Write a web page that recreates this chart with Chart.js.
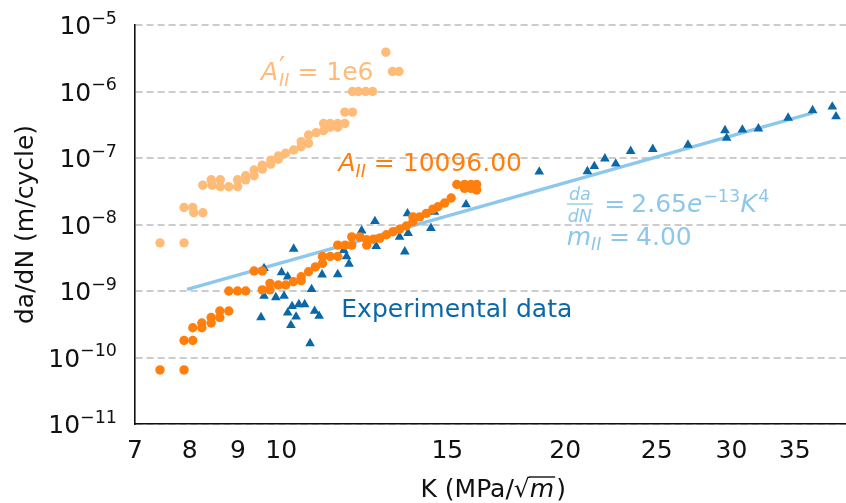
<!DOCTYPE html>
<html>
<head>
<meta charset="utf-8">
<script src="https://cdn.jsdelivr.net/npm/chart.js@4.4.1/dist/chart.umd.min.js"></script>
<style>
  html, body { margin: 0; padding: 0; background: #fff; overflow: hidden; }
  #wrap { position: relative; width: 857px; height: 503px; }
</style>
</head>
<body>
<div id="wrap"><canvas id="crack-growth"></canvas></div>
<script>
// Paris-law fit, da/dN = C * K^m
const fitC = 2.65e-13;
const fitM = 4;
const fitK = [7.95, 36.6];

const xTicks = [7, 8, 9, 10, 15, 20, 25, 30, 35];
const yTicks = [1e-11, 1e-10, 1e-9, 1e-8, 1e-7, 1e-6, 1e-5];

// model with A'_II = 1e6
const kPrime = [7.44, 7.89, 7.89, 8.06, 8.08, 8.26, 8.26, 8.43, 8.45, 8.62, 8.62, 8.80,
  8.99, 8.99, 9.17, 9.17, 9.36, 9.36, 9.55, 9.55, 9.75, 9.75, 9.93, 9.93,
  10.11, 10.31, 10.50, 10.50, 10.69, 10.69, 10.89, 11.09, 11.09, 11.27, 11.48, 11.68,
  11.27, 11.48, 11.68, 11.90, 11.90, 12.07, 12.29, 12.50, 12.91, 13.12, 13.33];
const ratePrime = [5.3e-9, 5.3e-9, 1.8e-8, 1.8e-8, 1.5e-8, 1.5e-8, 3.9e-8, 4.7e-8, 3.9e-8, 4.7e-8, 3.7e-8, 3.7e-8,
  4.7e-8, 3.7e-8, 5.4e-8, 4.7e-8, 6.6e-8, 5.4e-8, 7.8e-8, 6.8e-8, 9.3e-8, 8.1e-8, 1.07e-7, 9.6e-8,
  1.18e-7, 1.32e-7, 1.76e-7, 1.48e-7, 1.66e-7, 2.22e-7, 2.4e-7, 2.57e-7, 3.3e-7, 3.3e-7, 3.3e-7, 3.3e-7,
  2.9e-7, 2.9e-7, 4.9e-7, 4.9e-7, 1e-6, 1e-6, 1e-6, 1e-6, 3.9e-6, 2.0e-6, 2.0e-6];

// model with A_II = 10096
const kModel = [7.44, 7.89, 7.89, 8.06, 8.06, 8.24, 8.24, 8.43, 8.43, 8.61, 8.61, 8.80,
  8.80, 8.99, 9.17, 9.36, 9.55, 9.55, 9.73, 9.73, 9.93, 10.11, 10.30, 10.50,
  10.50, 10.69, 10.87, 11.06, 11.06, 11.27, 11.48, 11.48, 11.69, 11.88, 11.88, 12.12,
  12.32, 12.32, 12.52, 12.72, 12.93, 13.14, 13.35, 13.57, 13.79, 13.79, 14.02, 14.25,
  14.48, 14.66, 14.90, 15.14, 15.35, 15.64, 15.89, 16.11, 15.64, 15.89, 16.11];
const rateModel = [6.5e-11, 6.5e-11, 1.8e-10, 1.8e-10, 2.8e-10, 3.3e-10, 2.8e-10, 4.0e-10, 3.3e-10, 5.0e-10, 4.0e-10, 5.0e-10,
  1.0e-9, 1.0e-9, 1.0e-9, 2.0e-9, 2.0e-9, 1.04e-9, 1.3e-9, 1.04e-9, 1.23e-9, 1.23e-9, 1.38e-9, 1.64e-9,
  1.43e-9, 1.95e-9, 2.3e-9, 2.6e-9, 3.3e-9, 3.3e-9, 3.3e-9, 4.9e-9, 4.9e-9, 4.9e-9, 6.5e-9, 6.5e-9,
  5.9e-9, 4.9e-9, 6.0e-9, 6.2e-9, 7.0e-9, 7.8e-9, 8.5e-9, 9.5e-9, 1.1e-8, 1.3e-8, 1.3e-8, 1.47e-8,
  1.7e-8, 1.85e-8, 2.1e-8, 2.5e-8, 4.0e-8, 4.0e-8, 4.0e-8, 4.0e-8, 3.5e-8, 3.5e-8, 3.3e-8];

// measured crack growth rates
const kExp = [9.52, 9.59, 9.59, 9.87, 10.01, 10.07, 10.16, 10.16, 10.24, 10.27,
  10.31, 10.37, 10.44, 10.59, 10.73, 10.77, 10.85, 10.97, 11.05, 11.48,
  11.65, 11.73, 11.80, 12.17, 12.57, 12.61, 13.35, 13.52, 13.61, 13.63,
  14.41, 14.53, 15.70, 18.77, 21.11, 21.47, 22.03, 22.62, 23.46, 24.76,
  26.98, 29.53, 29.65, 30.81, 32.04, 34.45, 36.57, 38.37, 38.72];
const rateExp = [4.0e-10, 8.4e-10, 2.2e-9, 8.0e-10, 1.9e-9, 8.4e-10, 1.64e-9, 4.7e-10, 3.05e-10, 5.9e-10,
  4.3e-9, 4.1e-10, 6.3e-10, 6.3e-10, 1.63e-10, 1.06e-9, 5.0e-10, 4.2e-10, 1.76e-9, 1.78e-9,
  4.1e-9, 3.3e-9, 2.55e-9, 8.1e-9, 1.12e-8, 4.7e-9, 6.5e-9, 3.9e-9, 1.46e-8, 7.4e-9,
  8.8e-9, 1.54e-8, 2.0e-8, 6.2e-8, 6.3e-8, 7.5e-8, 9.8e-8, 8.2e-8, 1.27e-7, 1.36e-7,
  1.57e-7, 2.6e-7, 2.0e-7, 2.66e-7, 2.76e-7, 4.0e-7, 5.2e-7, 5.9e-7, 4.2e-7];

const FONT = '"DejaVu Sans", sans-serif';
const INK = '#111111';
const C_PRIME = '#ffbb78';
const C_MODEL = '#ff7f0e';
const C_EXP = '#0b68a8';
const C_FIT = '#8ec7ec';

function pairs(xs, ys) {
  return xs.map((x, i) => ({ x: x, y: ys[i] }));
}

// draws a run of text pieces, mathtext style (italic, scaled, raised/lowered)
function drawMath(ctx, x, y, size, color, parts) {
  ctx.save();
  ctx.fillStyle = color;
  ctx.textAlign = 'left';
  ctx.textBaseline = 'alphabetic';
  let cx = x;
  for (const p of parts) {
    const s = size * (p.sc || 1);
    ctx.font = (p.it ? 'italic ' : '') + s + 'px ' + FONT;
    cx += (p.dx || 0) * size;
    ctx.fillText(p.t, cx, y + (p.dy || 0) * size);
    if (p.adv !== false) cx += ctx.measureText(p.t).width;
  }
  ctx.restore();
  return cx;
}

function textWidth(ctx, t, size, italic) {
  ctx.save();
  ctx.font = (italic ? 'italic ' : '') + size + 'px ' + FONT;
  const w = ctx.measureText(t).width;
  ctx.restore();
  return w;
}

const labels = {
  id: 'labels',
  afterDatasetsDraw(chart) {
    const { ctx, scales: { x, y } } = chart;
    const px = k => x.getPixelForValue(k);
    const py = v => y.getPixelForValue(v);

    // y tick labels as powers of ten
    for (const v of yTicks) {
      const e = '\u2212' + Math.abs(Math.round(Math.log10(v)));
      const w = textWidth(ctx, '10', 25) + textWidth(ctx, e, 17.5);
      drawMath(ctx, x.left - 18 - w, py(v) + 9, 25, INK, [
        { t: '10' },
        { t: e, sc: 0.7, dy: -0.42 }
      ]);
    }

    drawMath(ctx, px(9.52), py(1.49e-6), 25, C_PRIME, [
      { t: 'A', it: 1 },
      { t: '\u2032', sc: 1.1, dy: -0.1, dx: 0.04, adv: false },
      { t: 'II', it: 1, sc: 0.7, dy: 0.25 },
      { t: ' = 1e6' }
    ]);

    drawMath(ctx, px(11.5), py(6.37e-8), 25, C_MODEL, [
      { t: 'A', it: 1 },
      { t: 'II', it: 1, sc: 0.7, dy: 0.22 },
      { t: ' = 10096.00' }
    ]);

    drawMath(ctx, px(11.58), py(4.06e-10), 25, C_EXP, [{ t: 'Experimental data' }]);

    // fitted law: da/dN fraction, then the coefficient and exponent
    const s = 25;
    const fx = px(20.07);
    const fy = py(1.54e-8);
    const wNum = textWidth(ctx, 'da', s * 0.7, true);
    const wDen = textWidth(ctx, 'dN', s * 0.7, true);
    const wFrac = Math.max(wNum, wDen) + 2;
    const barY = fy - 0.32 * s;
    drawMath(ctx, fx + (wFrac - wNum) / 2, barY - 0.16 * s, s, C_FIT, [{ t: 'da', it: 1, sc: 0.7 }]);
    drawMath(ctx, fx + (wFrac - wDen) / 2, barY + 0.72 * s, s, C_FIT, [{ t: 'dN', it: 1, sc: 0.7 }]);
    ctx.save();
    ctx.strokeStyle = C_FIT;
    ctx.lineWidth = 1.3;
    ctx.beginPath();
    ctx.moveTo(fx, barY);
    ctx.lineTo(fx + wFrac, barY);
    ctx.stroke();
    ctx.restore();
    drawMath(ctx, fx + wFrac, fy, s, C_FIT, [
      { t: '=', dx: 0.45 },
      { t: '2.65', dx: 0.25 },
      { t: 'e', it: 1 },
      { t: '\u221213', sc: 0.7, dy: -0.42, dx: 0.03 },
      { t: 'K', it: 1, dx: 0.02 },
      { t: '4', sc: 0.7, dy: -0.42, dx: 0.05 }
    ]);

    drawMath(ctx, px(20.07), py(4.92e-9), 25, C_FIT, [
      { t: 'm', it: 1 },
      { t: 'II', it: 1, sc: 0.7, dy: 0.22 },
      { t: '=', dx: 0.3 },
      { t: '4.00', dx: 0.25 }
    ]);

    // x axis title: K (MPa/sqrt(m))
    const ts = 25;
    const tb = 497;
    const w1 = textWidth(ctx, 'K (MPa/', ts);
    const wR = textWidth(ctx, '\u221A', ts);
    const wM = textWidth(ctx, 'm', ts, true);
    const wC = textWidth(ctx, ')', ts);
    const tx = (x.left + x.right) / 2 - (w1 + wR + wM + wC + 2) / 2;
    drawMath(ctx, tx, tb, ts, INK, [
      { t: 'K (MPa/' },
      { t: '\u221A' },
      { t: 'm', it: 1 },
      { t: ')', dx: 0.08 }
    ]);
    ctx.save();
    ctx.strokeStyle = INK;
    ctx.lineWidth = 1.4;
    ctx.beginPath();
    ctx.moveTo(tx + w1 + wR - 1, tb - 0.8 * ts);
    ctx.lineTo(tx + w1 + wR + wM + 1, tb - 0.8 * ts);
    ctx.stroke();
    ctx.restore();
  }
};

const ctx = document.getElementById('crack-growth').getContext('2d');
new Chart(ctx, {
  type: 'scatter',
  data: {
    datasets: [
      {
        label: 'A_II = 10096.00',
        data: pairs(kModel, rateModel),
        backgroundColor: C_MODEL,
        pointRadius: 4.7,
        pointBorderWidth: 0,
        order: 0
      },
      {
        label: "A'_II = 1e6",
        data: pairs(kPrime, ratePrime),
        backgroundColor: C_PRIME,
        pointRadius: 4.7,
        pointBorderWidth: 0,
        order: 1
      },
      {
        label: 'Experimental data',
        data: pairs(kExp, rateExp),
        pointStyle: 'triangle',
        backgroundColor: C_EXP,
        pointRadius: 5.6,
        pointBorderWidth: 0,
        order: 2
      },
      {
        label: 'Paris fit',
        data: fitK.map(k => ({ x: k, y: fitC * Math.pow(k, fitM) })),
        showLine: true,
        borderColor: C_FIT,
        borderWidth: 3.4,
        pointRadius: 0,
        order: 3
      }
    ]
  },
  options: {
    responsive: true,
    maintainAspectRatio: false,
    animation: false,
    layout: { padding: { top: 25, right: 0, bottom: 0, left: 0 } },
    plugins: {
      legend: { display: false },
      tooltip: { enabled: false }
    },
    scales: {
      x: {
        type: 'logarithmic',
        min: 7,
        max: 40.2,
        afterBuildTicks: (scale) => { scale.ticks = xTicks.map(v => ({ value: v })); },
        afterFit: (scale) => { scale.height = 79; },
        grid: { display: false, drawTicks: false },
        border: { display: true, color: INK, width: 1.6 },
        ticks: {
          padding: 12,
          color: INK,
          autoSkip: false,
          maxRotation: 0,
          font: { family: FONT, size: 25 },
          callback: (v) => String(v)
        }
      },
      y: {
        type: 'logarithmic',
        min: 1e-11,
        max: 1e-5,
        afterBuildTicks: (scale) => { scale.ticks = yTicks.map(v => ({ value: v })); },
        afterFit: (scale) => { scale.width = 135; },
        grid: { color: '#cccccc', lineWidth: 1.9, drawTicks: false },
        border: { display: true, color: INK, width: 1.6, dash: [7, 4] },
        ticks: { display: false },
        title: {
          display: true,
          text: 'da/dN (m/cycle)',
          color: INK,
          font: { family: FONT, size: 25 },
          padding: { top: 11, bottom: 0 }
        }
      }
    }
  },
  plugins: [labels]
});
</script>
</body>
</html>
